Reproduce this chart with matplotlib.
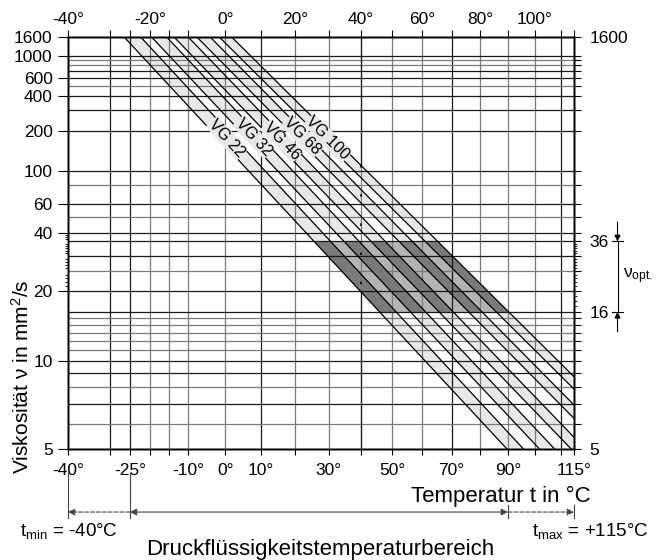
import numpy as np
import matplotlib.pyplot as plt

plt.rcParams['font.family'] = ['Liberation Sans', 'DejaVu Sans']
plt.rcParams['mathtext.default'] = 'regular'

# ISO viscosity grades: nominal viscosity at 40 degC, approx. viscosity at 100 degC
grades = ['VG 22', 'VG 32', 'VG 46', 'VG 68', 'VG 100']
visc_40 = [22, 32, 46, 68, 100]
visc_100 = [4.35, 5.5, 7.0, 9.1, 11.7]
tolerance = 0.10
label_visc = [176, 180, 168, 182, 176]

v_opt = [16, 36]
t_range = [-40, 115]
v_range = [5, 1600]
t_work = [-25, 90]
t_ref = 40

bottom_ticks = [-40, -25, -10, 0, 10, 30, 50, 70, 90, 115]
top_ticks = [-40, -20, 0, 20, 40, 60, 80, 100]
left_ticks = [1600, 1000, 600, 400, 200, 100, 60, 40, 20, 10, 5]
right_ticks = [1600, 36, 16, 5]

vgrid_dark = [-30, -25, 10, 70, 110]
vgrid_light = [-20, -15, -10, 0, 20, 30, 40, 50, 60, 80, 90, 100]
hgrid_dark = [1000, 700, 600, 400, 300, 200, 100, 60, 40, 36, 30, 20, 16, 10, 9, 7]
hgrid_light = [900, 800, 500, 80, 50, 25, 15, 14, 13, 12, 11, 8, 6]


# Ubbelohde-Walther scales
def t_fwd(t):
    with np.errstate(all='ignore'):
        return np.log10(np.asarray(t, float) + 273.15)


def t_inv(u):
    return 10 ** np.asarray(u, float) - 273.15


def v_fwd(v):
    with np.errstate(all='ignore'):
        return np.log10(np.log10(np.asarray(v, float) + 0.7))


def v_inv(w):
    with np.errstate(all='ignore'):
        return 10 ** (10 ** np.asarray(w, float)) - 0.7


def visc_at(t, v40, slope):
    return v_inv(v_fwd(v40) - slope * (t_fwd(t) - t_fwd(40)))


def temp_at(v, v40, slope):
    return t_inv(t_fwd(40) + (v_fwd(v40) - v_fwd(v)) / slope)


slopes = [(v_fwd(a) - v_fwd(b)) / (t_fwd(100) - t_fwd(40)) for a, b in zip(visc_40, visc_100)]

fig = plt.figure(figsize=(6.68, 5.6), dpi=100)
ax = fig.add_axes([68 / 668, 1 - 449 / 560, 506 / 668, 412 / 560])
ax.set_xscale('function', functions=(t_fwd, t_inv))
ax.set_yscale('function', functions=(v_fwd, v_inv))
ax.set_xlim(*t_range)
ax.set_ylim(*v_range)

dark = '#1a1a1a'
light = '#7a7a7a'
for t in vgrid_dark:
    ax.axvline(t, color=dark, lw=0.9, zorder=2)
for t in vgrid_light:
    ax.axvline(t, color=light, lw=0.9, zorder=2)
for v in hgrid_dark:
    ax.axhline(v, color=dark, lw=0.9, zorder=2)
for v in hgrid_light:
    ax.axhline(v, color=light, lw=0.9, zorder=2)

# grade bands
tt = np.array(t_range, float)
vv = np.array(v_opt, float)
for i, (v40, b) in enumerate(zip(visc_40, slopes)):
    lo = visc_at(tt, v40 * (1 - tolerance), b)
    hi = visc_at(tt, v40 * (1 + tolerance), b)
    ax.fill_between(tt, lo, hi, color='#e8e8e8', lw=0, zorder=1)
    ax.plot(tt, lo, color='k', lw=0.9, zorder=3)
    ax.plot(tt, hi, color='k', lw=0.9, zorder=3)
    # optimum viscosity range
    ax.fill_betweenx(vv, temp_at(vv, v40 * (1 - tolerance), b), temp_at(vv, v40 * (1 + tolerance), b),
                     color='#7a7a7a', lw=0, zorder=1.5)
    if i < len(visc_40) - 1:
        ax.fill_betweenx(vv, temp_at(vv, v40 * (1 + tolerance), b),
                         temp_at(vv, visc_40[i + 1] * (1 - tolerance), slopes[i + 1]),
                         color='#b4b4b4', lw=0, zorder=1.5)

# 40 degC reference line: solid outside the grade bands, dotted across them
v_low = visc_40[0] * (1 - tolerance)
v_high = visc_40[-1] * (1 + tolerance)
ax.plot([t_ref, t_ref], [v_range[1], v_high], color=dark, lw=0.9, zorder=2.5)
ax.plot([t_ref, t_ref], [v_low, v_range[0]], color=dark, lw=0.9, zorder=2.5)
ax.plot([t_ref, t_ref], [v_high, v_low], color='k', lw=1.2, ls=(0, (1.5, 16)), zorder=3)

# grade labels
for name, v40, b, lv in zip(grades, visc_40, slopes, label_visc):
    p1 = ax.transData.transform((temp_at(lv * 1.3, v40, b), lv * 1.3))
    p2 = ax.transData.transform((temp_at(lv / 1.3, v40, b), lv / 1.3))
    ang = np.degrees(np.arctan2(p2[1] - p1[1], p2[0] - p1[0]))
    ax.text(temp_at(lv, v40, b), lv, name, rotation=ang, rotation_mode='anchor',
            ha='center', va='center', fontsize=11.5, zorder=5,
            bbox=dict(facecolor='#e8e8e8', edgecolor='none', pad=0.3))

# ticks and labels
vpos = sorted(set(vgrid_dark + vgrid_light + bottom_ticks + top_ticks))
ax.set_xticks(vpos, labels=[f'{t}°' if t in bottom_ticks else '' for t in vpos])
ax.set_xticks([], minor=True)
ax.set_yticks(left_ticks, labels=[str(v) for v in left_ticks])
ax.set_yticks([v for v in range(21, 40) if v not in hgrid_dark + hgrid_light], minor=True)
ax.tick_params(axis='x', which='major', direction='out', length=4, width=0.8, labelsize=12.5, pad=6)
ax.tick_params(axis='y', which='major', direction='out', length=7, width=0.8, labelsize=12.5, pad=4)
ax.tick_params(axis='y', which='minor', direction='out', length=2.5, width=0.6)

axt = ax.twiny()
axt.set_xscale('function', functions=(t_fwd, t_inv))
axt.set_xlim(*t_range)
axt.set_xticks(vpos, labels=[f'{t}°' if t in top_ticks else '' for t in vpos])
axt.set_xticks([], minor=True)
axt.tick_params(direction='out', length=5, width=0.8, labelsize=12.5, pad=2)

hpos = sorted(set(hgrid_dark + hgrid_light + right_ticks))
axr = ax.twinx()
axr.set_yscale('function', functions=(v_fwd, v_inv))
axr.set_ylim(*v_range)
axr.set_yticks(hpos, labels=[str(v) if v in right_ticks else '' for v in hpos])
axr.set_yticks([v for v in range(17, 36) if v not in hpos], minor=True)
axr.tick_params(which='major', direction='out', length=5, width=0.8, labelsize=12.5, pad=6)
axr.tick_params(which='minor', direction='out', length=2.5, width=0.6)

for a in (ax, axt, axr):
    for sp in a.spines.values():
        sp.set_linewidth(1.0)

# optimum viscosity marker on the right
yt = ax.get_yaxis_transform()
for v in v_opt:
    ax.plot([1.075, 1.097], [v, v], transform=yt, clip_on=False, color='k', lw=0.8)
ax.plot([1.086, 1.086], v_opt, transform=yt, clip_on=False, color='k', lw=0.8)
arrow = dict(arrowstyle='-|>', color='k', lw=0.8, shrinkA=0, shrinkB=0, mutation_scale=9)
ax.annotate('', xy=(1.086, v_opt[1]), xytext=(1.086, 46.6), xycoords=yt, textcoords=yt, arrowprops=arrow)
ax.annotate('', xy=(1.086, v_opt[0]), xytext=(1.086, 13.1), xycoords=yt, textcoords=yt, arrowprops=arrow)
ax.text(1.097, 23.5, '$ν_{opt.}$', transform=yt, fontsize=12.5, ha='left', va='center')

# temperature range arrows below the axis
xt = ax.get_xaxis_transform()
gray = '#444444'
for t in [t_range[0], t_work[0]]:
    ax.plot([t, t], [-0.058, -0.167], transform=xt, clip_on=False, color=gray, lw=0.8)
for t in t_work[1:] + t_range[1:]:
    ax.plot([t, t], [-0.136, -0.167], transform=xt, clip_on=False, color=gray, lw=0.8)
y_arr = -0.153
dashed = dict(arrowstyle='-|>', color=gray, lw=0.8, ls='--', shrinkA=0, shrinkB=0, mutation_scale=10)
solid = dict(arrowstyle='<|-|>', color=gray, lw=0.8, shrinkA=0, shrinkB=0, mutation_scale=10)
ax.annotate('', xy=(t_range[0], y_arr), xytext=(t_work[0], y_arr), xycoords=xt, textcoords=xt, arrowprops=dashed)
ax.annotate('', xy=(t_work[0], y_arr), xytext=(t_work[1], y_arr), xycoords=xt, textcoords=xt, arrowprops=solid)
ax.annotate('', xy=(t_range[1], y_arr), xytext=(t_work[1], y_arr), xycoords=xt, textcoords=xt, arrowprops=dashed)

fig.text(591 / 668, 1 - 496 / 560, 'Temperatur t in °C', fontsize=16, ha='right', va='center')
fig.text(20 / 668, 1 - 531 / 560, '$t_{min}$ = -40°C', fontsize=13.5, ha='left', va='center')
fig.text(532 / 668, 1 - 531 / 560, '$t_{max}$ = +115°C', fontsize=13.5, ha='left', va='center')
fig.text(320 / 668, 1 - 549 / 560, 'Druckflüssigkeitstemperaturbereich', fontsize=16, ha='center', va='center')
fig.text(22 / 668, 1 - 474 / 560, 'Viskosität ν in mm$^2$/s', fontsize=15, rotation=90, ha='center', va='bottom')

fig.savefig('out.png', dpi=100)
